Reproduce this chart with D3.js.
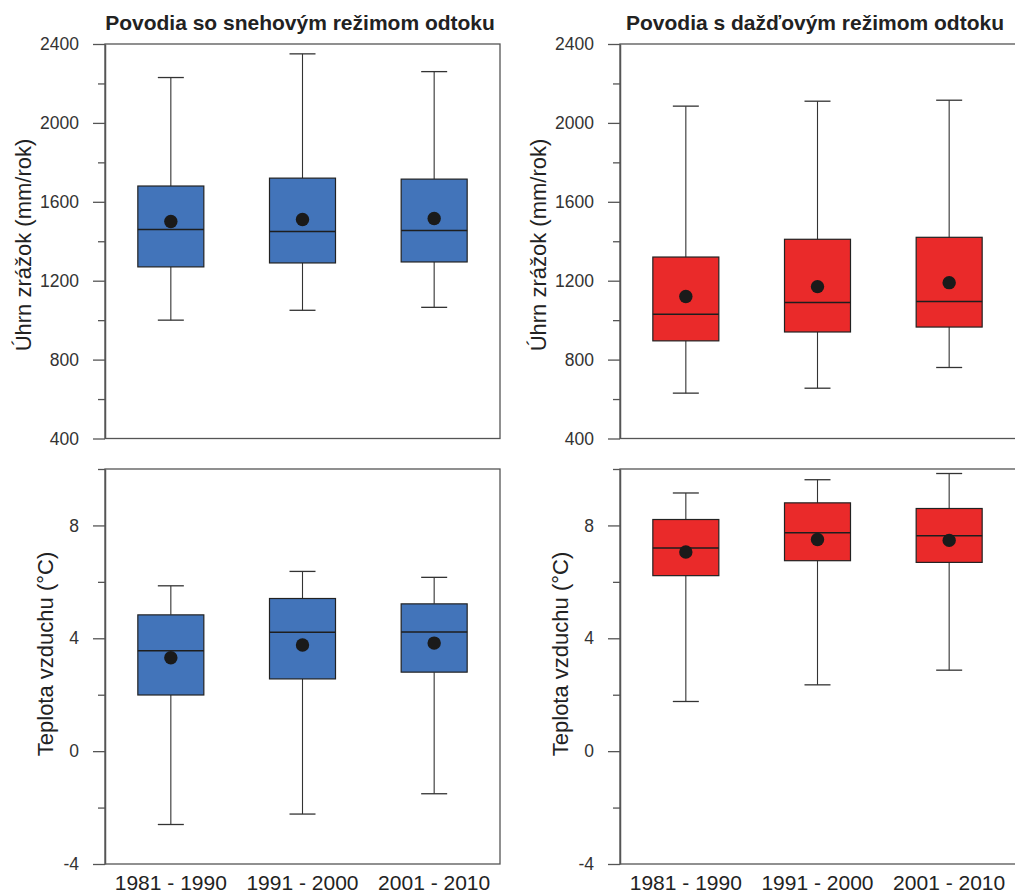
<!DOCTYPE html>
<html>
<head>
<meta charset="utf-8">
<script src="https://cdn.jsdelivr.net/npm/d3@7"></script>
<style>
  html, body { margin: 0; padding: 0; background: #fff; }
  svg { display: block; font-family: "Liberation Sans", Arial, Helvetica, sans-serif; }
</style>
</head>
<body>
<svg id="chart" width="1015" height="894"></svg>
<script>
// ---------------- DATA ----------------
const categories = ["1981 - 1990", "1991 - 2000", "2001 - 2010"];

const panelTitles = ["Povodia so snehovým režimom odtoku", "Povodia s dažďovým režimom odtoku"];
const precipLabel = "Úhrn zrážok (mm/rok)";
const tempLabel = "Teplota vzduchu (°C)";

const precipTicks = [400, 800, 1200, 1600, 2000, 2400];
const precipMinorTicks = [600, 1000, 1400, 1800, 2200];
const tempTicks = [-4, 0, 4, 8];
const tempMinorTicks = [-2, 2, 6, 10];

// snow regime – precipitation
const snowPrecipMin    = [1000, 1050, 1065];
const snowPrecipQ1     = [1270, 1290, 1295];
const snowPrecipMedian = [1460, 1450, 1455];
const snowPrecipQ3     = [1680, 1720, 1715];
const snowPrecipMax    = [2230, 2350, 2260];
const snowPrecipMean   = [1500, 1510, 1515];

// rain regime – precipitation
const rainPrecipMin    = [630, 655, 760];
const rainPrecipQ1     = [895, 940, 965];
const rainPrecipMedian = [1030, 1090, 1095];
const rainPrecipQ3     = [1320, 1410, 1420];
const rainPrecipMax    = [2085, 2110, 2115];
const rainPrecipMean   = [1120, 1170, 1190];

// snow regime – air temperature
const snowTempMin    = [-2.6, -2.23, -1.51];
const snowTempQ1     = [1.99, 2.56, 2.80];
const snowTempMedian = [3.56, 4.21, 4.22];
const snowTempQ3     = [4.83, 5.41, 5.22];
const snowTempMax    = [5.86, 6.37, 6.16];
const snowTempMean   = [3.31, 3.76, 3.83];

// rain regime – air temperature
const rainTempMin    = [1.76, 2.35, 2.87];
const rainTempQ1     = [6.22, 6.75, 6.69];
const rainTempMedian = [7.20, 7.74, 7.63];
const rainTempQ3     = [8.21, 8.80, 8.60];
const rainTempMax    = [9.15, 9.62, 9.84];
const rainTempMean   = [7.06, 7.50, 7.47];

// ---------------- DRAW ----------------
const svg = d3.select("#chart");
const BLUE = "#4274ba", RED = "#ea2a2a";
const AXIS = "#555";

function rows(mins, q1s, meds, q3s, maxs, means) {
  return categories.map((c, i) => ({cat: c, min: mins[i], q1: q1s[i], med: meds[i], q3: q3s[i], max: maxs[i], mean: means[i]}));
}

const panels = [
  {x0: 105, x1: 500, y0: 44, y1: 438.5, domain: [400, 2400], ticks: precipTicks, minor: precipMinorTicks,
   data: rows(snowPrecipMin, snowPrecipQ1, snowPrecipMedian, snowPrecipQ3, snowPrecipMax, snowPrecipMean),
   color: BLUE, title: panelTitles[0], ylabel: precipLabel, labelX: 31, labelY: 245, xlabels: false},
  {x0: 620, x1: 1015.8, y0: 44, y1: 438.5, domain: [400, 2400], ticks: precipTicks, minor: precipMinorTicks,
   data: rows(rainPrecipMin, rainPrecipQ1, rainPrecipMedian, rainPrecipQ3, rainPrecipMax, rainPrecipMean),
   color: RED, title: panelTitles[1], ylabel: precipLabel, labelX: 546, labelY: 245, xlabels: false},
  {x0: 105, x1: 500, y0: 469, y1: 864, domain: [-4, 10], ticks: tempTicks, minor: tempMinorTicks,
   data: rows(snowTempMin, snowTempQ1, snowTempMedian, snowTempQ3, snowTempMax, snowTempMean),
   color: BLUE, title: null, ylabel: tempLabel, labelX: 53, labelY: 654, xlabels: true},
  {x0: 620, x1: 1015.8, y0: 469, y1: 864, domain: [-4, 10], ticks: tempTicks, minor: tempMinorTicks,
   data: rows(rainTempMin, rainTempQ1, rainTempMedian, rainTempQ3, rainTempMax, rainTempMean),
   color: RED, title: null, ylabel: tempLabel, labelX: 568, labelY: 654, xlabels: true}
];

panels.forEach(p => {
  const g = svg.append("g");
  const x = d3.scaleBand().domain(categories).range([p.x0, p.x0 + 395]).paddingInner(0).paddingOuter(0);
  const y = d3.scaleLinear().domain(p.domain).range([p.y1, p.y0]);
  const bw = 66, capW = 26;

  // frame (top & right)
  g.append("rect")
    .attr("x", p.x0).attr("y", p.y0)
    .attr("width", p.x1 - p.x0).attr("height", p.y1 - p.y0)
    .attr("fill", "none").attr("stroke", AXIS).attr("stroke-width", 1.3);

  // minor ticks
  const minorAxis = d3.axisLeft(y).tickValues(p.minor).tickSize(7).tickFormat("").tickSizeOuter(0);
  const gm = g.append("g").attr("transform", `translate(${p.x0},0)`).call(minorAxis);
  gm.select(".domain").remove();
  gm.selectAll("line").attr("stroke", AXIS).attr("stroke-width", 1.3);

  // major ticks
  const majorAxis = d3.axisLeft(y).tickValues(p.ticks).tickSize(12).tickPadding(14).tickSizeOuter(0)
    .tickFormat(d => String(d));
  const ga = g.append("g").attr("transform", `translate(${p.x0},0)`).call(majorAxis);
  ga.select(".domain").attr("stroke", AXIS).attr("stroke-width", 1.5);
  ga.selectAll("line").attr("stroke", AXIS).attr("stroke-width", 1.3);
  ga.selectAll("text").attr("font-size", 17.5).attr("fill", "#333")
    .attr("font-family", "'Liberation Sans', Arial, sans-serif");

  // y label
  g.append("text")
    .attr("transform", `translate(${p.labelX},${p.labelY}) rotate(-90)`)
    .attr("text-anchor", "middle").attr("font-size", 22).attr("fill", "#222")
    .text(p.ylabel);

  // title
  if (p.title) {
    g.append("text")
      .attr("x", (p.x0 + p.x0 + 395) / 2 - 2.5).attr("y", 30)
      .attr("text-anchor", "middle").attr("font-size", 21).attr("font-weight", "bold").attr("fill", "#222")
      .text(p.title);
  }

  // x labels
  if (p.xlabels) {
    g.selectAll(".xl").data(categories).enter().append("text")
      .attr("x", d => x(d) + x.bandwidth() / 2).attr("y", 890)
      .attr("text-anchor", "middle").attr("font-size", 21).attr("fill", "#222")
      .text(d => d);
  }

  // boxes
  const bx = g.selectAll(".box").data(p.data).enter().append("g");
  const cx = d => x(d.cat) + x.bandwidth() / 2;

  // whiskers
  bx.append("line").attr("x1", cx).attr("x2", cx).attr("y1", d => y(d.max)).attr("y2", d => y(d.q3))
    .attr("stroke", "#333").attr("stroke-width", 1.1);
  bx.append("line").attr("x1", cx).attr("x2", cx).attr("y1", d => y(d.q1)).attr("y2", d => y(d.min))
    .attr("stroke", "#333").attr("stroke-width", 1.1);
  bx.append("line").attr("x1", d => cx(d) - capW / 2).attr("x2", d => cx(d) + capW / 2)
    .attr("y1", d => y(d.max)).attr("y2", d => y(d.max)).attr("stroke", "#333").attr("stroke-width", 1.3);
  bx.append("line").attr("x1", d => cx(d) - capW / 2).attr("x2", d => cx(d) + capW / 2)
    .attr("y1", d => y(d.min)).attr("y2", d => y(d.min)).attr("stroke", "#333").attr("stroke-width", 1.3);

  // box
  bx.append("rect")
    .attr("x", d => cx(d) - bw / 2).attr("width", bw)
    .attr("y", d => y(d.q3)).attr("height", d => y(d.q1) - y(d.q3))
    .attr("fill", p.color).attr("stroke", "#222").attr("stroke-width", 1.2);

  // median
  bx.append("line").attr("x1", d => cx(d) - bw / 2).attr("x2", d => cx(d) + bw / 2)
    .attr("y1", d => y(d.med)).attr("y2", d => y(d.med))
    .attr("stroke", "#1e1e1e").attr("stroke-width", 1.5);

  // mean
  bx.append("circle").attr("cx", cx).attr("cy", d => y(d.mean)).attr("r", 6.7).attr("fill", "#1a1a1a");
});
</script>
</body>
</html>
